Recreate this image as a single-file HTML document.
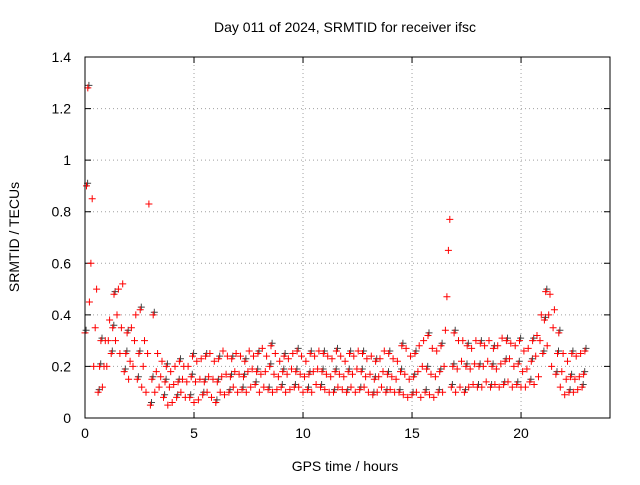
<!DOCTYPE html>
<html><head><meta charset="utf-8"><style>
body{margin:0;background:#fff;}
svg text{font-family:"Liberation Sans",sans-serif;font-size:14px;fill:#000;}
</style></head><body>
<svg id="chart" width="640" height="480" xmlns="http://www.w3.org/2000/svg">
<rect width="640" height="480" fill="#fff"/>
<text x="345" y="32" text-anchor="middle">Day 011 of 2024, SRMTID for receiver ifsc</text>
<text transform="translate(19,237) rotate(-90)" text-anchor="middle">SRMTID / TECUs</text>
<text x="345" y="471" text-anchor="middle">GPS time / hours</text>
<g id="grid"></g><g id="ticks"></g><g id="marks"></g>
<rect x="85" y="57" width="525" height="361" fill="none" stroke="#000" stroke-width="1"/>
</svg>
<script>
const xTicks=[0,5,10,15,20];
const yTicks=[0,0.2,0.4,0.6,0.8,1,1.2,1.4];
const yTickLabels=["0","0.2","0.4","0.6","0.8","1","1.2","1.4"];
const step=0.2;
const lo=[.33,.45,.2,.1,.12,.2,.25,.3,.25,.18,.15,.2,.15,.12,.1,.05,.1,.12,.08,.05,.06,.08,.1,.08,.08,.06,
.07,.09,.1,.08,.06,.1,.09,.1,.12,.1,.11,.1,.12,.13,.1,.12,.11,.1,.11,.12,.1,.11,.12,.12,.1,.11,.1,.13,.12,.11,.1,.1,.12,.11,.1,.12,.1,.11,.12,.1,.09,.1,.12,.1,.11,.1,.1,.09,.08,.09,.1,.08,.1,.09,.08,.1,.1,.47,.12,.1,.12,.1,.12,.13,.12,.12,.14,.12,.13,.12,.13,.14,.12,.13,.12,.12,.14,.13,.16,.25,.28,.2,.17,.12,.09,.1,.1,.11,.12];
const mid=[.9,.6,.35,.2,.2,.3,.35,.4,.35,.25,.22,.3,.25,.2,.25,.15,.18,.16,.14,.12,.13,.14,.15,.14,.16,.14,
.15,.14,.16,.15,.14,.16,.17,.16,.18,.17,.16,.18,.19,.18,.17,.18,.2,.17,.16,.18,.17,.19,.18,.17,.16,.17,.18,.19,.18,.17,.16,.18,.17,.16,.18,.17,.19,.18,.16,.17,.15,.16,.18,.17,.16,.15,.18,.17,.15,.16,.18,.2,.19,.17,.16,.18,.2,.65,.2,.19,.22,.2,.19,.21,.2,.2,.22,.2,.19,.21,.22,.23,.2,.21,.18,.19,.22,.24,.3,.38,.4,.35,.25,.18,.15,.16,.15,.16,.17];
const hi=[1.28,.85,.5,.3,.3,.38,.48,.5,.52,.33,.35,.4,.42,.3,.83,.4,.25,.22,.2,.18,.2,.22,.2,.2,.24,.22,
.23,.24,.25,.22,.23,.26,.24,.23,.25,.24,.22,.26,.24,.25,.27,.24,.28,.25,.22,.24,.23,.25,.26,.24,.22,.25,.24,.26,.25,.24,.23,.26,.24,.22,.25,.24,.26,.25,.23,.24,.22,.23,.26,.25,.23,.22,.28,.27,.24,.25,.28,.3,.32,.27,.26,.28,.34,.77,.33,.3,.3,.28,.27,.3,.29,.28,.3,.27,.28,.31,.3,.29,.28,.3,.26,.27,.3,.32,.4,.49,.48,.42,.33,.25,.22,.25,.24,.25,.26];
const X0=85,X1=610,Y0=418,Y1=57,XMAX=24.08,YMAX=1.4;
const xs=t=>X0+(X1-X0)*t/XMAX;
const ys=v=>Y0-(Y0-Y1)*v/YMAX;
const NS="http://www.w3.org/2000/svg";
function mk(tag,attrs,parent){const e=document.createElementNS(NS,tag);for(const k in attrs)e.setAttribute(k,attrs[k]);document.getElementById(parent).appendChild(e);return e;}
xTicks.forEach(t=>{const x=xs(t);
 if(t>0){const g=mk('line',{x1:x,x2:x,y1:Y1,y2:Y0,stroke:'#a0a0a0','stroke-dasharray':'1,3'},'grid');
 
 }
 const l=mk('text',{x:x,y:Y0+20,'text-anchor':'middle'},'ticks');l.textContent=t;
 
 
 mk('path',{d:`M${x},${Y0}v-6M${x},${Y1}v6`,stroke:'#000'},'ticks');});
yTicks.forEach((v,i)=>{const y=ys(v);
 if(v>0&&v<YMAX){const g=mk('line',{x1:X0,x2:X1,y1:y,y2:y,stroke:'#a0a0a0','stroke-dasharray':'1,3'},'grid');
 
 }
 const l=mk('text',{x:X0-14,y:y+5,'text-anchor':'end'},'ticks');l.textContent=yTickLabels[i];
 
 
 mk('path',{d:`M${X0},${y}h6M${X1},${y}h-6`,stroke:'#000'},'ticks');});
let dBlack='',dRed='';
const plus=(x,y)=>`M${(x-3.5).toFixed(1)},${y.toFixed(1)}h7M${x.toFixed(1)},${(y-3.5).toFixed(1)}v7`;
[[lo,0],[mid,0.07],[hi,0.13]].forEach(([arr,off])=>{
 arr.forEach((v,i)=>{const t=i*step+off;if(i%3===0)dBlack+=plus(xs(t+0.05),ys(v+0.01));dRed+=plus(xs(t),ys(v));});});
const b=mk('path',{d:dBlack,stroke:'#444',fill:'none'},'marks');


const r=mk('path',{d:dRed,stroke:'#ff0000',fill:'none'},'marks');


</script>
</body></html>
